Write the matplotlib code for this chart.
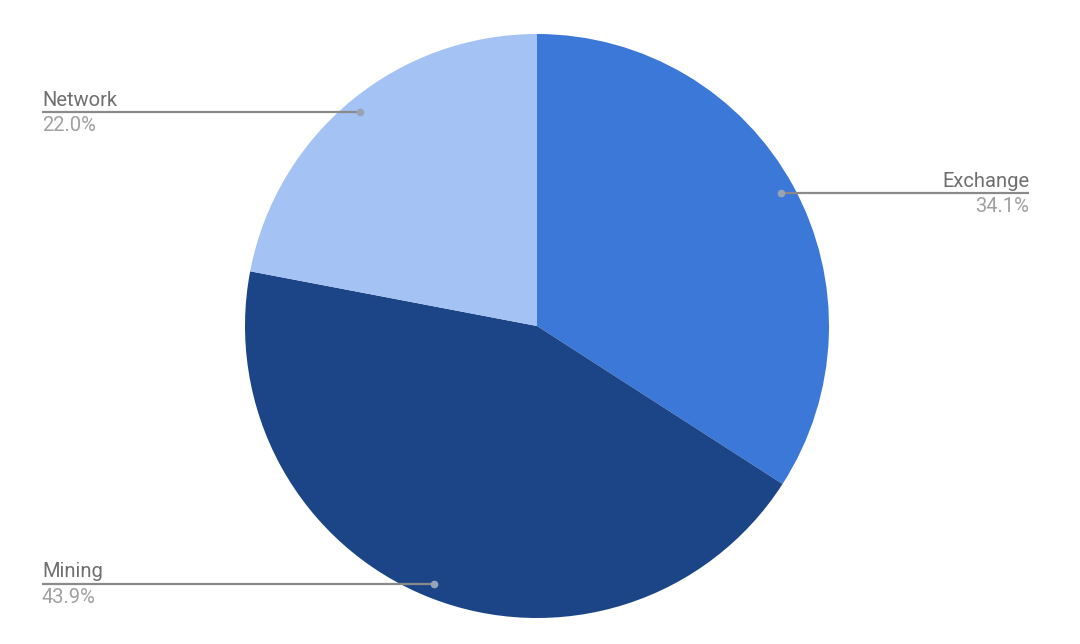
import numpy as np
import matplotlib
matplotlib.use("Agg")
import matplotlib.pyplot as plt

labels = ["Exchange", "Mining", "Network"]
values = [34.1, 43.9, 22.0]
colors = ["#3c78d8", "#1c4587", "#a4c2f4"]

W, H = 1080, 644
fig = plt.figure(figsize=(W / 100, H / 100), dpi=100)
ax = fig.add_axes([0, 0, 1, 1])

cx, cy, r = 537, H - 326, 292
wedges, _ = ax.pie(values, colors=colors, startangle=90, counterclock=False,
                   center=(cx, cy), radius=r, frame=True,
                   wedgeprops=dict(linewidth=0))
ax.set_xlim(0, W)
ax.set_ylim(0, H)
ax.set_aspect("equal")
ax.axis("off")

font = ["Roboto", "DejaVu Sans"]
for w, lab, v in zip(wedges, labels, values):
    mid = np.deg2rad((w.theta1 + w.theta2) / 2)
    dx = cx + 0.95 * r * np.cos(mid)
    dy = cy + 0.95 * r * np.sin(mid)
    if np.cos(mid) >= 0:
        x_end = 1029
        ha = "right"
    else:
        x_end = 42
        ha = "left"
    ax.plot([dx, x_end], [dy, dy], color="#8a8a8a", lw=1.6, solid_capstyle="butt", zorder=3)
    ax.plot([dx], [dy], "o", ms=4.5, color="#9aa3b5", zorder=4)
    ax.text(x_end, dy + 6.5, lab, ha=ha, va="baseline", fontsize=14.5,
            color="#6f6f6f", family=font)
    ax.text(x_end, dy - 19, f"{v:.1f}%", ha=ha, va="baseline", fontsize=14.5,
            color="#a0a0a0", family=font)

fig.savefig("out.png", dpi=100, facecolor="white")
